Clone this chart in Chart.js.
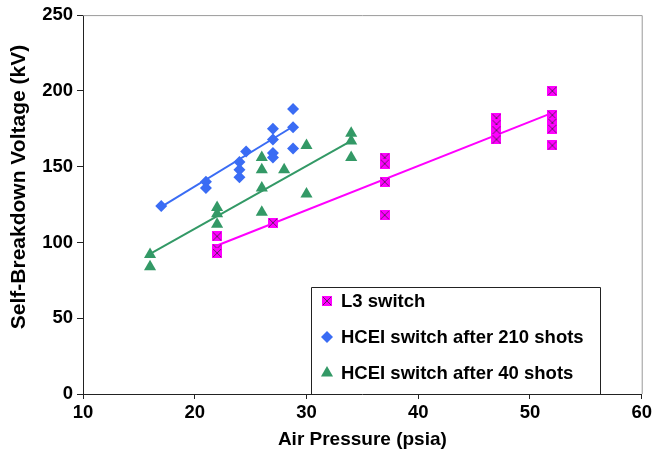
<!DOCTYPE html>
<html>
<head>
<meta charset="utf-8">
<script src="https://cdn.jsdelivr.net/npm/chart.js@4.4.0/dist/chart.umd.min.js"></script>
<style>
  html, body { margin: 0; padding: 0; background: #fff; }
  #wrap { width: 655px; height: 458px; position: relative; }
</style>
</head>
<body>
<div id="wrap"><canvas id="chart"></canvas></div>
<script>
// L3 switch
const l3Pressure = [22, 22, 22, 27, 37, 37, 37, 37, 47, 47, 47, 47, 52, 52, 52, 52, 52];
const l3Voltage  = [104, 96, 93, 113, 156, 152, 140, 118, 182, 178, 174, 168, 200, 184, 179, 175, 164];

// HCEI switch after 210 shots
const hcei210Pressure = [17, 21, 21, 24, 24, 24, 24.6, 27, 27, 27, 27, 28.8, 28.8, 28.8];
const hcei210Voltage  = [124, 140, 136, 153, 148, 143, 160, 175, 168, 159, 156, 188, 176, 162];

// HCEI switch after 40 shots
const hcei40Pressure = [16, 16, 22, 22, 22, 26, 26, 26, 26, 28, 30, 30, 34, 34, 34];
const hcei40Voltage  = [92, 84, 123, 119, 112, 156, 148, 136, 120, 148, 164, 132, 172, 167, 156];

// trend lines (end points)
const l3TrendPressure = [22, 52];
const l3TrendVoltage  = [98, 185.5];
const hcei210TrendPressure = [17, 28.8];
const hcei210TrendVoltage  = [123.5, 176.5];
const hcei40TrendPressure = [16, 34];
const hcei40TrendVoltage  = [92.5, 167];

const xTicks = [10, 20, 30, 40, 50, 60];
const yTicks = [0, 50, 100, 150, 200, 250];
const yTitle = "Self-Breakdown Voltage (kV)";

const MAGENTA = "#ff00ff";
const BLUE = "#3a6cf4";
const GREEN = "#339966";
const FONT = "'Liberation Sans', Arial, Helvetica, sans-serif";

function toPoints(xs, ys) {
  return xs.map((x, i) => ({ x: x, y: ys[i] }));
}

// magenta square with a dark cross, like the Excel marker
function makeL3Marker(size) {
  const c = document.createElement("canvas");
  c.width = size;
  c.height = size;
  const g = c.getContext("2d");
  g.fillStyle = MAGENTA;
  g.fillRect(0, 0, size, size);
  g.strokeStyle = "#6a1a6a";
  g.lineWidth = 1;
  g.beginPath();
  g.moveTo(1, 1); g.lineTo(size - 1, size - 1);
  g.moveTo(size - 1, 1); g.lineTo(1, size - 1);
  g.stroke();
  return c;
}
const l3Marker = makeL3Marker(10);

// gray frame on top/right of the plot area + the vertical axis title
const plotFrame = {
  id: "plotFrame",
  beforeDatasetsDraw(chart) {
    const { ctx, chartArea: a } = chart;
    ctx.save();
    ctx.strokeStyle = "#9a9a9a";
    ctx.lineWidth = 1;
    ctx.beginPath();
    ctx.moveTo(a.left, a.top + 0.5);
    ctx.lineTo(a.right + 0.5, a.top + 0.5);
    ctx.lineTo(a.right + 0.5, a.bottom);
    ctx.stroke();

    // y title sits a bit above the middle of the axis in the original
    ctx.translate(19, 187);
    ctx.rotate(-Math.PI / 2);
    ctx.fillStyle = "#000";
    ctx.font = "bold 21px " + FONT;
    ctx.textAlign = "center";
    ctx.textBaseline = "middle";
    ctx.fillText(yTitle, 0, 0);
    ctx.restore();
  }
};

// boxed legend sitting inside the plot
const boxLegend = {
  id: "boxLegend",
  afterDraw(chart) {
    const { ctx, chartArea: a } = chart;
    const left = 311, top = 287, right = 600;
    ctx.save();
    ctx.fillStyle = "#fff";
    ctx.fillRect(left, top, right - left, a.bottom - top);
    ctx.strokeStyle = "#222";
    ctx.lineWidth = 1;
    ctx.beginPath();
    ctx.moveTo(left + 0.5, a.bottom);
    ctx.lineTo(left + 0.5, top + 0.5);
    ctx.lineTo(right + 0.5, top + 0.5);
    ctx.lineTo(right + 0.5, a.bottom);
    ctx.stroke();

    const items = chart.data.datasets.filter(d => d.label);
    items.forEach((d, i) => {
      const y = 301 + i * 36;
      ctx.fillStyle = d.backgroundColor;
      ctx.strokeStyle = d.borderColor;
      ctx.lineWidth = 0;
      Chart.helpers.drawPoint(ctx, { pointStyle: d.pointStyle, radius: d.pointRadius, rotation: 0, borderWidth: 0 }, 327, y);
      ctx.fillStyle = "#000";
      ctx.font = "bold 18.5px " + FONT;
      ctx.textBaseline = "middle";
      ctx.textAlign = "left";
      ctx.fillText(d.label, 341, y + 1);
    });
    ctx.restore();
  }
};

new Chart(document.getElementById("chart"), {
  type: "scatter",
  data: {
    datasets: [
      {
        label: "L3 switch",
        data: toPoints(l3Pressure, l3Voltage),
        pointStyle: l3Marker,
        pointRadius: 5,
        backgroundColor: MAGENTA,
        borderColor: MAGENTA,
        borderWidth: 0
      },
      {
        label: "HCEI switch after 210 shots",
        data: toPoints(hcei210Pressure, hcei210Voltage),
        pointStyle: "rectRot",
        pointRadius: 6,
        backgroundColor: BLUE,
        borderColor: BLUE,
        borderWidth: 0
      },
      {
        label: "HCEI switch after 40 shots",
        data: toPoints(hcei40Pressure, hcei40Voltage),
        pointStyle: "triangle",
        pointRadius: 7,
        backgroundColor: GREEN,
        borderColor: GREEN,
        borderWidth: 0
      },
      {
        data: toPoints(l3TrendPressure, l3TrendVoltage),
        showLine: true,
        pointRadius: 0,
        borderColor: MAGENTA,
        borderWidth: 2
      },
      {
        data: toPoints(hcei210TrendPressure, hcei210TrendVoltage),
        showLine: true,
        pointRadius: 0,
        borderColor: BLUE,
        borderWidth: 2
      },
      {
        data: toPoints(hcei40TrendPressure, hcei40TrendVoltage),
        showLine: true,
        pointRadius: 0,
        borderColor: GREEN,
        borderWidth: 2
      }
    ]
  },
  options: {
    responsive: true,
    maintainAspectRatio: false,
    animation: false,
    layout: { padding: { top: 13, right: 12, left: 0, bottom: 0 } },
    plugins: {
      legend: { display: false },
      tooltip: { enabled: false }
    },
    scales: {
      x: {
        type: "linear",
        min: xTicks[0],
        max: xTicks[xTicks.length - 1],
        afterBuildTicks(scale) { scale.ticks = xTicks.map(v => ({ value: v })); },
        afterFit(scale) { scale.height = 64; },
        ticks: { color: "#000", padding: 3, font: { family: FONT, size: 18.5, weight: "bold" } },
        grid: { drawOnChartArea: false, tickLength: 5, tickColor: "#222" },
        border: { color: "#222", width: 1 },
        title: {
          display: true,
          text: "Air Pressure (psia)",
          color: "#000",
          font: { family: FONT, size: 19, weight: "bold" },
          padding: { top: 0, bottom: 7 }
        }
      },
      y: {
        type: "linear",
        min: yTicks[0],
        max: yTicks[yTicks.length - 1],
        afterBuildTicks(scale) { scale.ticks = yTicks.map(v => ({ value: v })); },
        afterFit(scale) { scale.width = 83; },
        ticks: { color: "#000", padding: 4, font: { family: FONT, size: 18.5, weight: "bold" } },
        grid: { drawOnChartArea: false, tickLength: 6, tickColor: "#222" },
        border: { color: "#222", width: 1 }
      }
    }
  },
  plugins: [plotFrame, boxLegend]
});
</script>
</body>
</html>
